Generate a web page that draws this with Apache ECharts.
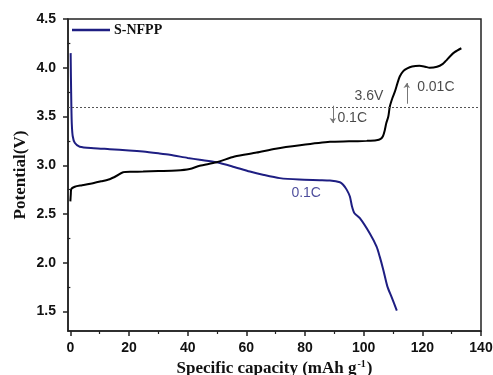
<!DOCTYPE html>
<html>
<head>
<meta charset="utf-8">
<script src="https://cdn.jsdelivr.net/npm/echarts@6/dist/echarts.min.js"></script>
<style>
  html, body { margin: 0; padding: 0; background: #fff; }
  #chart { width: 493px; height: 375px; }
</style>
</head>
<body>
<div id="chart"></div>
<script>
// Galvanostatic charge/discharge profile of S-NFPP

// Charge branch (0.1C up to 3.6 V, then 0.01C)
const chargeCap = [0, 0.15, 0.3, 1.5, 4, 7.7, 10.5, 13.4, 15.7, 18, 21, 24.8, 30, 36.2, 40.7, 44.1, 49.8, 56, 63.5, 70, 78.3, 88.5, 95, 101, 104.3, 105.8, 106.6, 107.2, 107.7, 108.4, 108.9, 109.8, 110.7, 111.5, 112.3, 113.5, 114.7, 116.5, 119, 121, 122.5, 125, 127, 128, 129.4, 131, 133.3];
const chargeV   = [2.63, 2.70, 2.755, 2.78, 2.795, 2.816, 2.835, 2.857, 2.89, 2.929, 2.933, 2.935, 2.94, 2.946, 2.962, 2.995, 3.03, 3.09, 3.13, 3.17, 3.205, 3.24, 3.245, 3.25, 3.256, 3.27, 3.30, 3.36, 3.43, 3.50, 3.60, 3.69, 3.76, 3.84, 3.91, 3.965, 3.99, 4.012, 4.02, 4.01, 4.0, 4.01, 4.04, 4.07, 4.116, 4.16, 4.20];

// Discharge branch (0.1C)
const dischargeCap = [0.1, 0.2, 0.35, 0.5, 0.8, 1.5, 3.2, 8, 13.4, 20, 24.8, 30, 33.9, 40, 44.1, 49.8, 55, 61.2, 66, 71.4, 78, 85, 88.5, 91.9, 93, 94.2, 95.3, 96, 96.8, 98.7, 102.1, 104.4, 105.5, 106.7, 108.1, 109.5, 111.3];
const dischargeV   = [4.15, 3.9, 3.6, 3.42, 3.3, 3.23, 3.19, 3.175, 3.165, 3.152, 3.14, 3.122, 3.107, 3.075, 3.056, 3.03, 2.99, 2.935, 2.9, 2.868, 2.853, 2.847, 2.843, 2.825, 2.80, 2.75, 2.68, 2.58, 2.51, 2.457, 2.30, 2.165, 2.06, 1.926, 1.755, 1.65, 1.51];

// Axis ticks
const xTicks = [0, 20, 40, 60, 80, 100, 120, 140];
const xMinorTicks = [10, 30, 50, 70, 90, 110, 130];
const yTicks = [1.5, 2.0, 2.5, 3.0, 3.5, 4.0, 4.5];
const yMinorTicks = [1.75, 2.25, 2.75, 3.25, 3.75, 4.25];

// Rate-switch voltage and annotations
const switchV = 3.6;
const noteNames = ['3.6V', '0.1C', '0.01C'];
const notePos = [[101.8, 3.713], [96.1, 3.48], [124.6, 3.798]];
const dischargeNote = '0.1C';
const dischargeNotePos = [80.4, 2.715];
const downArrow = [[89.5, 3.61], [89.5, 3.433]];
const upArrow = [[114.7, 3.631], [114.7, 3.843]];

const BLUE = '#1e1e82';
const zip = (a, b) => a.map((v, i) => [v, b[i]]);

const tickFont = { fontFamily: 'Liberation Sans, Arial, sans-serif', fontWeight: 'bold', fontSize: 14, color: '#111' };
const titleFont = { fontFamily: 'Liberation Serif, Times New Roman, serif', fontWeight: 'bold', color: '#111' };

const chart = echarts.init(document.getElementById('chart'), null, { renderer: 'canvas' });

chart.setOption({
  animation: false,
  backgroundColor: '#fff',
  grid: {
    left: 68, right: 12, top: 19, bottom: 44,
    outerBoundsMode: 'none', containLabel: false,
    show: true, borderColor: '#222', borderWidth: 1.5, backgroundColor: 'transparent'
  },
  legend: {
    data: ['S-NFPP'],
    left: 72, top: 23, padding: 0,
    icon: 'rect', itemWidth: 38, itemHeight: 2.5, itemGap: 4,
    selectedMode: false,
    textStyle: Object.assign({}, titleFont, { fontSize: 14, padding: [0, 0, 0, -1] })
  },
  xAxis: [{
    type: 'value', min: -0.8, max: 140, position: 'bottom',
    name: '{t|Specific capacity (mAh g}{s|-1}{t|)}',
    nameLocation: 'middle', nameGap: 28,
    nameTextStyle: {
      rich: {
        t: Object.assign({}, titleFont, { fontSize: 17, lineHeight: 18 }),
        s: Object.assign({}, titleFont, { fontSize: 10, lineHeight: 18, verticalAlign: 'top', padding: [0, 1, 8, 1] })
      }
    },
    axisLine: { show: true, onZero: false, lineStyle: { color: '#222', width: 1.5 } },
    axisTick: { show: true, inside: false, length: 5, lineStyle: { color: '#222', width: 1.5 }, customValues: xTicks },
    axisLabel: Object.assign({ margin: 10, customValues: xTicks }, tickFont),
    splitLine: { show: false }
  }, {
    type: 'value', min: -0.8, max: 140, position: 'bottom',
    axisLine: { show: false },
    axisTick: { show: true, inside: false, length: 3, lineStyle: { color: '#222', width: 1.2 }, customValues: xMinorTicks },
    axisLabel: { show: false },
    splitLine: { show: false }
  }],
  yAxis: [{
    type: 'value', min: 1.3, max: 4.5, position: 'left',
    name: 'Potential(V)', nameLocation: 'middle', nameRotate: 90, nameGap: 39,
    nameMoveOverlap: false,
    nameTextStyle: Object.assign({}, titleFont, { fontSize: 17 }),
    axisLine: { show: true, onZero: false, lineStyle: { color: '#222', width: 1.5 } },
    axisTick: { show: true, inside: false, length: 5, lineStyle: { color: '#222', width: 1.5 }, customValues: yTicks },
    axisLabel: Object.assign({ margin: 12, customValues: yTicks, formatter: v => v.toFixed(1) }, tickFont),
    splitLine: { show: false }
  }, {
    type: 'value', min: 1.3, max: 4.5, position: 'left',
    axisLine: { show: false },
    axisTick: { show: true, inside: false, length: 3, lineStyle: { color: '#222', width: 1.2 }, customValues: yMinorTicks },
    axisLabel: { show: false },
    splitLine: { show: false }
  }],
  series: [
    {
      name: 'S-NFPP', type: 'line', data: zip(dischargeCap, dischargeV),
      showSymbol: false, smooth: 0.25, color: BLUE,
      lineStyle: { color: BLUE, width: 2 },
      z: 3,
      markLine: {
        silent: true, symbol: ['none', 'none'], animation: false,
        label: { show: false },
        lineStyle: { color: '#555', width: 1, type: [2, 2] },
        data: [{ yAxis: switchV }]
      }
    },
    {
      name: 'charge', type: 'line', data: zip(chargeCap, chargeV),
      showSymbol: false, smooth: 0.25, color: '#000',
      lineStyle: { color: '#000', width: 2 },
      z: 4,
      markLine: {
        silent: true, symbol: ['none', 'arrow'], symbolSize: 5, animation: false,
        label: { show: false },
        lineStyle: { color: '#777', width: 1, type: 'solid' },
        data: [
          [{ coord: downArrow[0] }, { coord: downArrow[1] }],
          [{ coord: upArrow[0] }, { coord: upArrow[1] }]
        ]
      }
    },
    {
      name: 'notes', type: 'scatter', symbolSize: 1, silent: true,
      itemStyle: { color: 'transparent' },
      data: noteNames.map((n, i) => ({ name: n, value: notePos[i] })),
      label: {
        show: true, position: 'inside', formatter: p => p.name,
        fontFamily: 'Liberation Sans, Arial, sans-serif', fontSize: 14, color: '#1a1a1a'
      }
    },
    {
      name: 'dnote', type: 'scatter', symbolSize: 1, silent: true,
      itemStyle: { color: 'transparent' },
      data: [{ name: dischargeNote, value: dischargeNotePos }],
      label: {
        show: true, position: 'inside', formatter: p => p.name,
        fontFamily: 'Liberation Sans, Arial, sans-serif', fontSize: 14, color: BLUE
      }
    }
  ]
});
</script>
</body>
</html>
